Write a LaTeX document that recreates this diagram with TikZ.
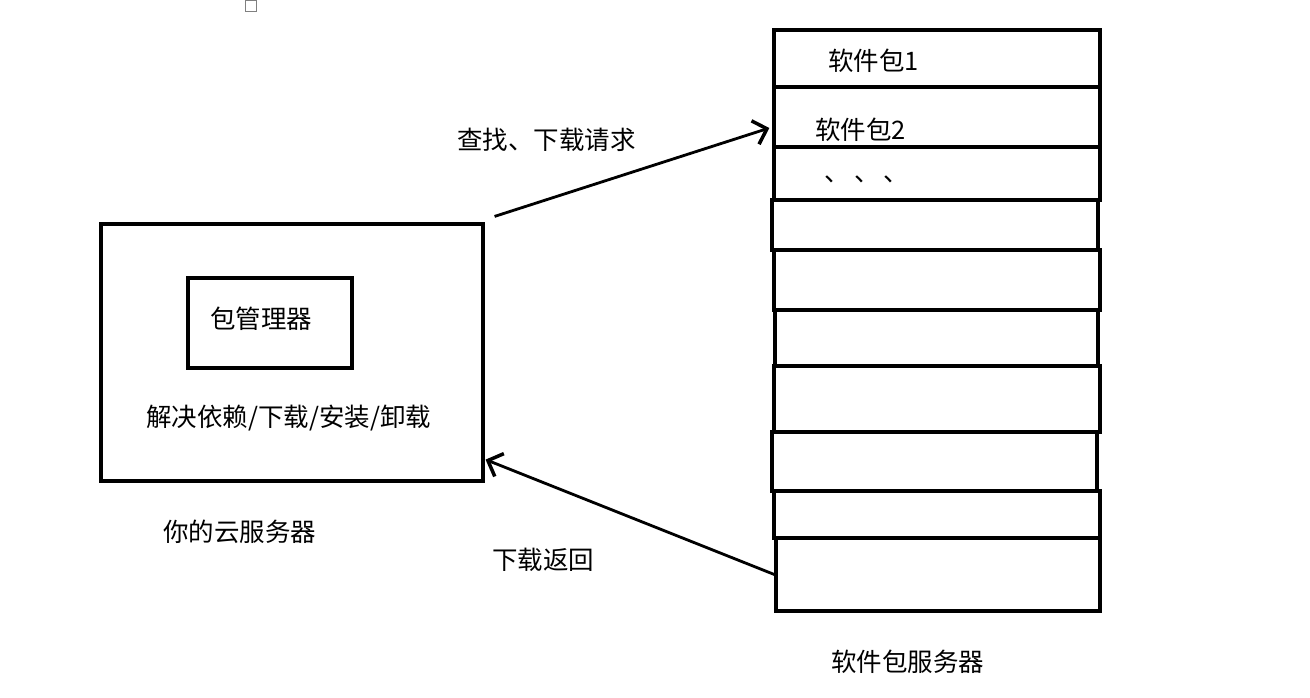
\documentclass[tikz,border=0pt]{standalone}
\usepackage{fontspec}
\usepackage{tikz}
\usetikzlibrary{arrows.meta, positioning, calc, fit}
\newfontfamily\cjk{Noto Sans CJK SC}

\begin{document}
\begin{tikzpicture}[
        x=0.02cm, y=-0.02cm,
        font=\cjk\fontsize{14.5}{17}\selectfont,
        box/.style = {rectangle, draw=black, line width=1.8pt, inner sep=0pt},
        pkg_row/.style = {rectangle, draw=black, line width=1.9pt, inner sep=0pt},
        label_text/.style = {inner sep=0pt, anchor=west},
        flow/.style = {draw, line width=1.6pt, -{Straight Barb[length=7pt, width=14pt, line width=2pt]}}
    ]
    \useasboundingbox (0,0) rectangle (1310,697);

    % Missing glyph box
    \node [rectangle, draw=gray, line width=0.5pt, minimum size=0.22cm, inner sep=0pt] (glyph) at (251,6) {};

    % Cloud server
    \node [box, fit={(101,224) (483,481)}] (server) {};
    \node [box, fit={(188,278) (352,368)}] (pkgmgr) {};
    \node [label_text] (mgr_label) at (210,319) {包管理器};
    \node [label_text] (ops_label) at (146,418) {解决依赖/下载/安装/卸载};
    \node [label_text] (server_label) at (163,532) {你的云服务器};

    % Package server rows
    \foreach \l/\t/\r/\b [count=\i] in {774/30/1100/87, 774/87/1100/147, 774/147/1100/200, 772/200/1098/250, 774/250/1100/310,
        775/310/1098/366, 774/366/1100/432, 772/432/1097/491, 774/491/1100/538, 776/538/1100/611}
        \node [pkg_row, fit={(\l,\t) (\r,\b)}] (row\i) {};
    \node [label_text] (pkg1) at (828,61) {软件包1};
    \node [label_text] (pkg2) at (815,130) {软件包2};
    \node [label_text] (dots) at (824,179) {、\,、\,、};
    \node [label_text] (repo_label) at (831,662) {软件包服务器};

    % Connections
    \draw [flow] ($(server.north east)+(10,-6)$) -- ($(row2.west)+(-3,11)$);
    \node [label_text] (req_label) at (457,140) {查找、下载请求};

    \draw [flow] (row10.west) -- ($(server.south east)+(1,-23)$);
    \node [label_text] (ret_label) at (492,560) {下载返回};

\end{tikzpicture}
\end{document}
